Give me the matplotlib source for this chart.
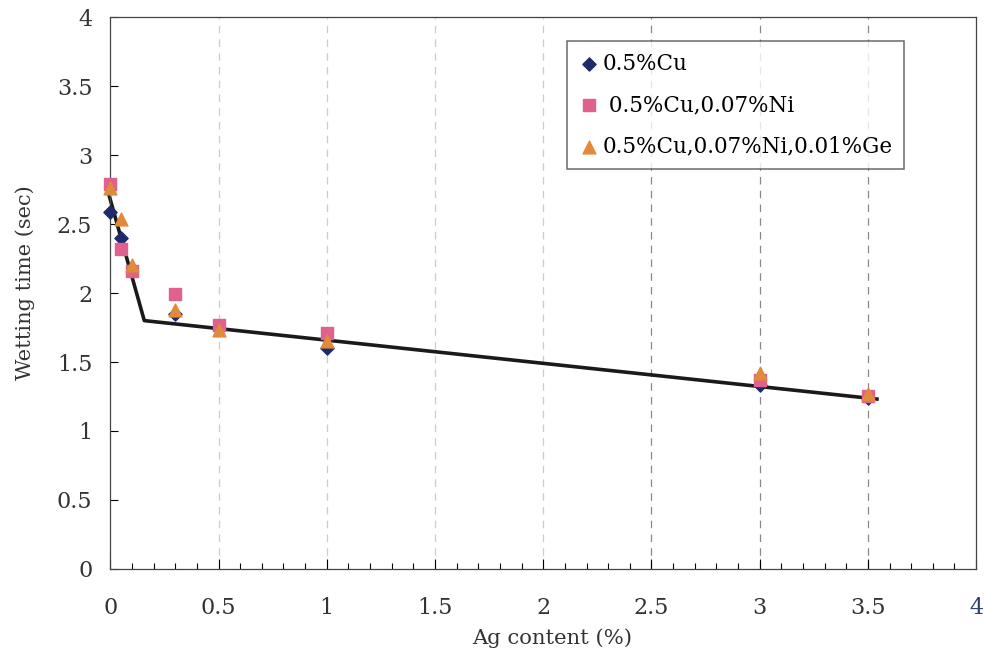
import matplotlib
matplotlib.use("Agg")
import matplotlib.pyplot as plt
from matplotlib.ticker import MultipleLocator

plt.rcParams['font.family'] = ['DejaVu Serif']

# Data
x_cu = [0.0, 0.05, 0.3, 0.5, 1.0, 3.0, 3.5]
y_cu = [2.59, 2.40, 1.85, 1.74, 1.60, 1.33, 1.24]

x_ni = [0.0, 0.05, 0.1, 0.3, 0.5, 1.0, 3.0, 3.5]
y_ni = [2.79, 2.32, 2.16, 1.99, 1.77, 1.71, 1.37, 1.25]

x_ge = [0.0, 0.05, 0.1, 0.3, 0.5, 1.0, 3.0, 3.5]
y_ge = [2.76, 2.54, 2.20, 1.88, 1.73, 1.65, 1.42, 1.27]

fit_x = [-0.015, 0.157, 3.55]
fit_y = [2.76, 1.80, 1.23]

labels = ['0.5%Cu', ' 0.5%Cu,0.07%Ni', '0.5%Cu,0.07%Ni,0.01%Ge']
tick_vals = [0, 0.5, 1, 1.5, 2, 2.5, 3, 3.5, 4]
tick_text = ['0', '0.5', '1', '1.5', '2', '2.5', '3', '3.5', '4']

fig = plt.figure(figsize=(9.85, 6.57), dpi=100)
ax = fig.add_axes([0.112, 0.134, 0.879, 0.840])

for gx in [0.5, 1.0, 1.5, 2.0]:
    ax.axvline(gx, color='#cccccc', linestyle=(0, (6, 5)), linewidth=0.9, zorder=0)
for gx in [2.5, 3.0, 3.5]:
    ax.axvline(gx, color='#888888', linestyle=(0, (6, 5)), linewidth=0.9, zorder=0)

ax.plot(fit_x, fit_y, color='#1a1a1a', linewidth=2.6, zorder=2, solid_capstyle='butt', clip_on=False)

ax.scatter(x_cu, y_cu, marker='D', s=45, color='#1f2a6b', label=labels[0], zorder=3, clip_on=False)
ax.scatter(x_ni, y_ni, marker='s', s=85, color='#e0608e', label=labels[1], zorder=3, clip_on=False)
ax.scatter(x_ge, y_ge, marker='^', s=85, color='#e08a3c', label=labels[2], zorder=4, clip_on=False)

ax.set_xlim(0, 4)
ax.set_ylim(0, 4)
ax.set_xticks(tick_vals)
ax.set_xticklabels(tick_text)
ax.set_yticks(tick_vals)
ax.set_yticklabels(tick_text)
ax.xaxis.set_minor_locator(MultipleLocator(0.1))

ax.tick_params(axis='x', which='major', direction='in', length=7, width=0.8, pad=20, labelsize=16, labelcolor='#333333')
ax.tick_params(axis='x', which='minor', direction='in', length=4, width=0.8)
ax.tick_params(axis='y', which='major', direction='in', length=6, width=0.8, pad=13, labelsize=16, labelcolor='#333333')
ax.tick_params(top=False, right=False)
ax.get_xticklabels()[-1].set_color('#2a3f6e')

for sp in ax.spines.values():
    sp.set_linewidth(0.9)
    sp.set_color('#444444')

ax.set_xlabel('Ag content (%)', fontsize=15.2, color='#333333')
ax.set_ylabel('Wetting time (sec)', fontsize=15, color='#333333')
ax.xaxis.set_label_coords(0.510, -0.108)
ax.yaxis.set_label_coords(-0.087, 0.518)

leg = ax.legend(loc='upper left', bbox_to_anchor=(0.527, 0.957), fontsize=15.5, frameon=True,
                fancybox=False, edgecolor='#444444', handletextpad=0.1, handlelength=1.0,
                labelspacing=0.9, borderpad=0.55, borderaxespad=0, scatterpoints=1)
leg.get_frame().set_linewidth(1.1)

fig.savefig('out.png', dpi=100)
